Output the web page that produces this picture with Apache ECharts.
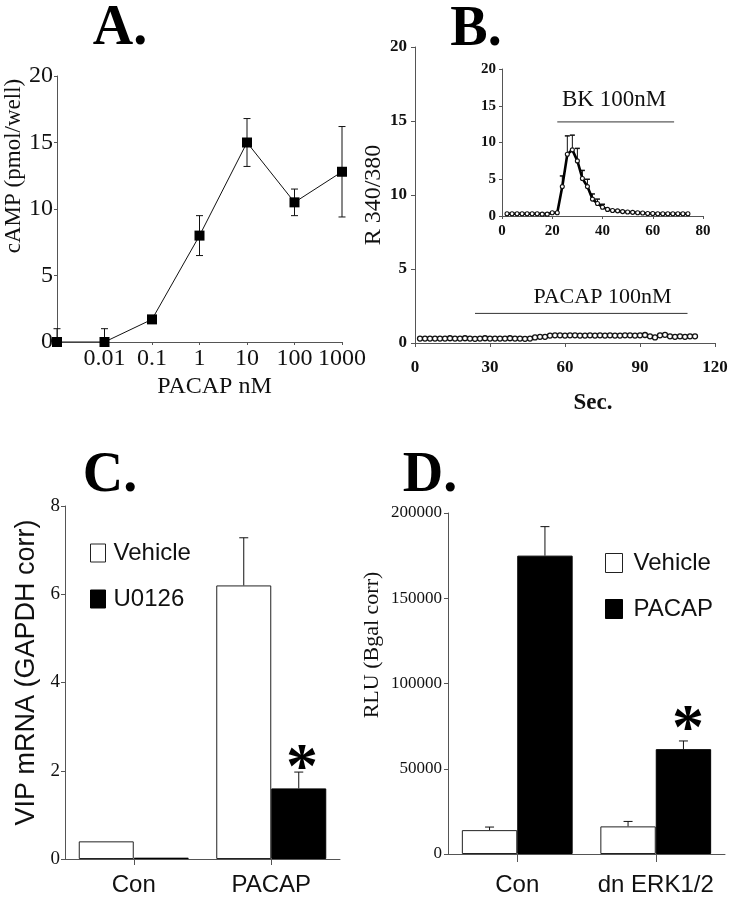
<!DOCTYPE html>
<html><head><meta charset="utf-8">
<script src="https://cdn.jsdelivr.net/npm/echarts@6/dist/echarts.min.js"></script>
<style>html,body{margin:0;padding:0;background:#fff}#c{width:738px;height:900px}</style>
</head><body><div id="c"></div>
<script>
// ---------- Panel A ----------
const aCategories = ['', '0.01', '0.1', '1', '10', '100', '1000'];
const aValues = [0, 0, 1.7, 8.0, 15.0, 10.5, 12.8];
const aErrors = [1.0, 1.0, 0, 1.5, 1.8, 1.0, 3.4];
const aYTicks = [0, 20, 5];
// ---------- Panel B (main) ----------
const bTimes = [2,4,6,8,10,12,14,16,18,20,22,24,26,28,30,32,34,36,38,40,42,44,46,48,50,52,54,56,58,60,62,64,66,68,70,72,74,76,78,80,82,84,86,88,90,92,94,96,98,100,102,104,106,108,110,112];
const bValues = [0.30,0.30,0.30,0.30,0.30,0.30,0.32,0.30,0.30,0.32,0.30,0.28,0.30,0.32,0.30,0.30,0.30,0.30,0.32,0.30,0.30,0.28,
  0.30,0.38,0.42,0.42,0.50,
  0.52,0.52,0.50,0.52,0.52,0.50,0.50,0.52,0.50,0.52,0.50,0.52,0.50,0.50,0.52,0.52,0.50,0.52,0.54,
  0.45,0.38,0.52,0.55,0.45,0.42,0.45,0.42,0.45,0.45];
const bStimulus = {label: 'PACAP 100nM', start: 24, end: 109, level: 2.0, labelX: 75, labelY: 3.1};
// ---------- Panel B (inset) ----------
const insetTimes = [2,4,6,8,10,12,14,16,18,20,22,24,26,28,30,32,34,36,38,40,42,44,46,48,50,52,54,56,58,60,62,64,66,68,70,72,74];
const insetValues = [0.3,0.3,0.3,0.3,0.3,0.3,0.3,0.25,0.25,0.45,0.45,
  4.0,8.4,9.0,7.5,5.1,4.0,2.3,1.7,1.2,0.9,0.75,0.7,0.6,0.55,0.5,0.45,0.4,0.35,0.35,
  0.3,0.3,0.3,0.3,0.3,0.3,0.3];
const insetErrTimes = [24, 26, 28, 30, 32, 34, 36, 38, 40];
const insetErrHigh = [5.45, 10.9, 11.0, 9.2, 6.2, 5.0, 3.0, 2.3, 1.6];
const insetStimulus = {label: 'BK 100nM', start: 22, end: 68.5, level: 12.8, labelX: 44.6, labelY: 15.8};
// ---------- Panel C ----------
const cCategories = ['Con', 'PACAP'];
const cVehicle = [0.4, 6.2];
const cVehicleErr = [0, 1.08];
const cU0126 = [0.03, 1.6];
const cU0126Err = [0, 0.37];
// ---------- Panel D ----------
const dCategories = ['Con', 'dn ERK1/2'];
const dVehicle = [14000, 16200];
const dVehicleErr = [1800, 2900];
const dPacap = [175000, 61500];
const dPacapErr = [17000, 4800];

const serif = "'Liberation Serif','Times New Roman',serif";
const sans = "'Liberation Sans',Arial,sans-serif";
const ink = '#111';
const axisCol = '#555';

const chart = echarts.init(document.getElementById('c'), null, {renderer: 'canvas'});

function axisLine() { return {show: true, lineStyle: {color: axisCol, width: 1}}; }
function tick(len, inside) { return {show: true, length: len, inside: !!inside, lineStyle: {color: axisCol, width: 1}}; }

function errA(params, api) {
  const xi = api.value(0), v = api.value(1), e = api.value(2);
  if (!e) return null;
  const lo = api.coord([xi, Math.max(0, v - e)]);
  const hi = api.coord([xi, v + e]);
  const c = 3.5;
  const kids = [
    {type: 'line', shape: {x1: lo[0], y1: lo[1], x2: hi[0], y2: hi[1]}, style: {stroke: ink, lineWidth: 1}},
    {type: 'line', shape: {x1: hi[0] - c, y1: hi[1], x2: hi[0] + c, y2: hi[1]}, style: {stroke: ink, lineWidth: 1}}
  ];
  if (v - e > 0) kids.push({type: 'line', shape: {x1: lo[0] - c, y1: lo[1], x2: lo[0] + c, y2: lo[1]}, style: {stroke: ink, lineWidth: 1}});
  return {type: 'group', children: kids};
}
function errBar(sign) {
  return function (params, api) {
    const xi = api.value(0), v = api.value(1), e = api.value(2);
    if (!e) return null;
    const band = api.size([1, 0])[0];
    const bw = band * 0.8 / 2;
    const lo = api.coord([xi, v]);
    const hi = api.coord([xi, v + e]);
    const x = lo[0] + sign * bw / 2;
    const c = 4.5;
    return {type: 'group', children: [
      {type: 'line', shape: {x1: x, y1: lo[1], x2: x, y2: hi[1]}, style: {stroke: ink, lineWidth: 1}},
      {type: 'line', shape: {x1: x - c, y1: hi[1], x2: x + c, y2: hi[1]}, style: {stroke: ink, lineWidth: 1}}
    ]};
  };
}
function errInset(params, api) {
  const t = api.value(0), v = api.value(1), h = api.value(2);
  const lo = api.coord([t, v]);
  const hi = api.coord([t, h]);
  const c = 2.5;
  return {type: 'group', children: [
    {type: 'line', shape: {x1: lo[0], y1: lo[1], x2: hi[0], y2: hi[1]}, style: {stroke: ink, lineWidth: 1}},
    {type: 'line', shape: {x1: hi[0] - c, y1: hi[1], x2: hi[0] + c, y2: hi[1]}, style: {stroke: ink, lineWidth: 1.5}}
  ]};
}
function stimulus(fontSize) {
  return function (params, api) {
    const p1 = api.coord([api.value(0), api.value(2)]);
    const p2 = api.coord([api.value(1), api.value(2)]);
    const pl = api.coord([api.value(3), api.value(4)]);
    return {type: 'group', children: [
      {type: 'line', shape: {x1: p1[0], y1: p1[1], x2: p2[0], y2: p2[1]}, style: {stroke: '#333', lineWidth: 1}},
      {type: 'text', style: {x: pl[0], y: pl[1], text: api.value(5), font: fontSize + 'px ' + serif, fill: ink, textAlign: 'center', textVerticalAlign: 'middle'}}
    ]};
  };
}

const insetErrData = insetErrTimes.map((t, i) => [t, insetValues[insetTimes.indexOf(t)], insetErrHigh[i]]);

const option = {
  backgroundColor: '#fff',
  animation: false,
  textStyle: {fontFamily: serif, color: ink},
  grid: [
    {left: 57, top: 76, width: 285, height: 266},
    {left: 415, top: 47, width: 300, height: 296},
    {left: 502, top: 69, width: 201, height: 147},
    {left: 65, top: 506, width: 275, height: 353},
    {left: 448, top: 513, width: 277, height: 341}
  ],
  xAxis: [
    {gridIndex: 0, type: 'category', data: aCategories, boundaryGap: false,
      axisLine: axisLine(), axisTick: Object.assign(tick(3), {interval: 0}), splitLine: {show: false},
      axisLabel: {fontFamily: serif, fontSize: 24, color: ink, margin: 5, interval: 0},
      name: 'PACAP nM', nameLocation: 'middle', nameGap: 33,
      nameTextStyle: {fontFamily: serif, fontSize: 24, color: ink, padding: [0, 0, 0, 30]}},
    {gridIndex: 1, type: 'value', min: 0, max: 120, interval: 30,
      axisLine: axisLine(), axisTick: tick(4), splitLine: {show: false},
      axisLabel: {fontFamily: serif, fontSize: 17, fontWeight: 'bold', color: ink, margin: 16},
      name: 'Sec.', nameLocation: 'middle', nameGap: 49,
      nameTextStyle: {fontFamily: serif, fontSize: 23, fontWeight: 'bold', color: ink, padding: [0, 0, 0, 56]}},
    {gridIndex: 2, type: 'value', min: 0, max: 80, interval: 20,
      axisLine: axisLine(), axisTick: tick(3), splitLine: {show: false},
      axisLabel: {fontFamily: serif, fontSize: 15, fontWeight: 'bold', color: ink, margin: 8}},
    {gridIndex: 3, type: 'category', data: cCategories,
      axisLine: axisLine(), axisTick: Object.assign(tick(6), {alignWithLabel: true, interval: 0}), splitLine: {show: false},
      axisLabel: {fontFamily: sans, fontSize: 24, color: ink, margin: 14, interval: 0}},
    {gridIndex: 4, type: 'category', data: dCategories,
      axisLine: axisLine(), axisTick: Object.assign(tick(8), {alignWithLabel: true, interval: 0}), splitLine: {show: false},
      axisLabel: {fontFamily: sans, fontSize: 24, color: ink, margin: 19, interval: 0, hideOverlap: false}}
  ],
  yAxis: [
    {gridIndex: 0, type: 'value', min: aYTicks[0], max: aYTicks[1], interval: aYTicks[2],
      axisLine: axisLine(), axisTick: tick(3), splitLine: {show: false},
      axisLabel: {fontFamily: serif, fontSize: 24, color: ink, margin: 4},
      name: 'cAMP (pmol/well)', nameLocation: 'middle', nameGap: 30,
      nameTextStyle: {fontFamily: serif, fontSize: 23, color: ink, padding: [0, 0, 0, 86]}},
    {gridIndex: 1, type: 'value', min: 0, max: 20, interval: 5,
      axisLine: axisLine(), axisTick: tick(4), splitLine: {show: false},
      axisLabel: {fontFamily: serif, fontSize: 17, fontWeight: 'bold', color: ink, margin: 8},
      name: 'R 340/380', nameLocation: 'middle', nameGap: 25,
      nameTextStyle: {fontFamily: serif, fontSize: 24, color: ink}},
    {gridIndex: 2, type: 'value', min: 0, max: 20, interval: 5,
      axisLine: axisLine(), axisTick: tick(3), splitLine: {show: false},
      axisLabel: {fontFamily: serif, fontSize: 15, fontWeight: 'bold', color: ink, margin: 6}},
    {gridIndex: 3, type: 'value', min: 0, max: 8, interval: 2,
      axisLine: axisLine(), axisTick: tick(4), splitLine: {show: false},
      axisLabel: {fontFamily: serif, fontSize: 19, color: ink, margin: 5},
      name: 'VIP mRNA (GAPDH corr)', nameLocation: 'middle', nameGap: 25,
      nameTextStyle: {fontFamily: sans, fontSize: 27, color: ink, padding: [0, 0, 0, 20]}},
    {gridIndex: 4, type: 'value', min: 0, max: 200000, interval: 50000,
      axisLine: axisLine(), axisTick: tick(4), splitLine: {show: false},
      axisLabel: {fontFamily: serif, fontSize: 17, color: ink, margin: 6, formatter: v => String(v)},
      name: 'RLU (Bgal corr)', nameLocation: 'middle', nameGap: 65,
      nameTextStyle: {fontFamily: serif, fontSize: 22, color: ink, padding: [0, 0, 0, 77]}}
  ],
  legend: [
    {data: [
        {name: 'Vehicle', itemStyle: {color: '#fff', borderColor: '#222', borderWidth: 1}},
        {name: 'U0126', itemStyle: {color: '#000', borderColor: '#000', borderWidth: 1}}],
      orient: 'vertical', left: 85, top: 536, icon: 'rect', itemWidth: 15, itemHeight: 18, itemGap: 22,
      selectedMode: false, textStyle: {fontFamily: sans, fontSize: 24, color: ink, padding: [0, 0, 0, 3]}},
    {data: [
        {name: 'Vehicle', itemStyle: {color: '#fff', borderColor: '#222', borderWidth: 1}},
        {name: 'PACAP', itemStyle: {color: '#000', borderColor: '#000', borderWidth: 1}}],
      orient: 'vertical', left: 600, top: 546, icon: 'rect', itemWidth: 17, itemHeight: 19, itemGap: 22,
      selectedMode: false, textStyle: {fontFamily: sans, fontSize: 24, color: ink, padding: [0, 0, 0, 6]}}
  ],
  series: [
    {type: 'line', name: 'cAMP', xAxisIndex: 0, yAxisIndex: 0, data: aValues,
      symbol: 'rect', symbolSize: 10, lineStyle: {color: ink, width: 1}, itemStyle: {color: '#000'}, z: 3},
    {type: 'custom', xAxisIndex: 0, yAxisIndex: 0, data: aValues.map((v, i) => [i, v, aErrors[i]]),
      renderItem: errA, z: 2},
    {type: 'line', name: 'PACAP trace', xAxisIndex: 1, yAxisIndex: 1, data: bTimes.map((t, i) => [t, bValues[i]]),
      symbol: 'circle', symbolSize: 5, showAllSymbol: true,
      lineStyle: {color: ink, width: 1}, itemStyle: {color: '#fff', borderColor: '#111', borderWidth: 1.3}},
    {type: 'custom', xAxisIndex: 1, yAxisIndex: 1, clip: false,
      data: [[bStimulus.start, bStimulus.end, bStimulus.level, bStimulus.labelX, bStimulus.labelY, bStimulus.label]],
      dimensions: ['s', 'e', 'l', 'lx', 'ly', {name: 't', type: 'ordinal'}],
      renderItem: stimulus(22)},
    {type: 'custom', xAxisIndex: 2, yAxisIndex: 2, data: insetErrData, renderItem: errInset, z: 2},
    {type: 'line', name: 'BK trace', xAxisIndex: 2, yAxisIndex: 2, data: insetTimes.map((t, i) => [t, insetValues[i]]),
      symbol: 'circle', symbolSize: 4, showAllSymbol: true,
      lineStyle: {color: '#000', width: 2.6}, itemStyle: {color: '#fff', borderColor: '#111', borderWidth: 1.1}, z: 3},
    {type: 'custom', xAxisIndex: 2, yAxisIndex: 2, clip: false,
      data: [[insetStimulus.start, insetStimulus.end, insetStimulus.level, insetStimulus.labelX, insetStimulus.labelY, insetStimulus.label]],
      dimensions: ['s', 'e', 'l', 'lx', 'ly', {name: 't', type: 'ordinal'}],
      renderItem: stimulus(23)},
    {type: 'bar', name: 'Vehicle', xAxisIndex: 3, yAxisIndex: 3, data: cVehicle, barGap: 0, barCategoryGap: '20%',
      itemStyle: {color: '#fff', borderColor: '#222', borderWidth: 1}},
    {type: 'bar', name: 'U0126', xAxisIndex: 3, yAxisIndex: 3, data: cU0126, barGap: 0, barCategoryGap: '20%',
      itemStyle: {color: '#000', borderColor: '#000', borderWidth: 1}},
    {type: 'custom', xAxisIndex: 3, yAxisIndex: 3, data: cVehicle.map((v, i) => [i, v, cVehicleErr[i]]), renderItem: errBar(-1)},
    {type: 'custom', xAxisIndex: 3, yAxisIndex: 3, data: cU0126.map((v, i) => [i, v, cU0126Err[i]]), renderItem: errBar(1)},
    {type: 'bar', name: 'Vehicle', xAxisIndex: 4, yAxisIndex: 4, data: dVehicle, barGap: 0, barCategoryGap: '20%',
      itemStyle: {color: '#fff', borderColor: '#222', borderWidth: 1}},
    {type: 'bar', name: 'PACAP', xAxisIndex: 4, yAxisIndex: 4, data: dPacap, barGap: 0, barCategoryGap: '20%',
      itemStyle: {color: '#000', borderColor: '#000', borderWidth: 1}},
    {type: 'custom', xAxisIndex: 4, yAxisIndex: 4, data: dVehicle.map((v, i) => [i, v, dVehicleErr[i]]), renderItem: errBar(-1)},
    {type: 'custom', xAxisIndex: 4, yAxisIndex: 4, data: dPacap.map((v, i) => [i, v, dPacapErr[i]]), renderItem: errBar(1)}
  ],
  graphic: [
    {type: 'text', style: {x: 120, y: 30, text: 'A.', font: 'bold 56px ' + serif, fill: '#000', textAlign: 'center', textVerticalAlign: 'middle'}},
    {type: 'text', style: {x: 476, y: 31, text: 'B.', font: 'bold 56px ' + serif, fill: '#000', textAlign: 'center', textVerticalAlign: 'middle'}},
    {type: 'text', style: {x: 110, y: 477, text: 'C.', font: 'bold 56px ' + serif, fill: '#000', textAlign: 'center', textVerticalAlign: 'middle'}},
    {type: 'text', style: {x: 430, y: 477, text: 'D.', font: 'bold 56px ' + serif, fill: '#000', textAlign: 'center', textVerticalAlign: 'middle'}},
    {type: 'text', style: {x: 302, y: 770, text: '*', font: 'bold 64px ' + serif, fill: '#000', textAlign: 'center', textVerticalAlign: 'middle'}},
    {type: 'text', style: {x: 688, y: 731, text: '*', font: 'bold 64px ' + serif, fill: '#000', textAlign: 'center', textVerticalAlign: 'middle'}}
  ]
};
chart.setOption(option);
</script></body></html>
